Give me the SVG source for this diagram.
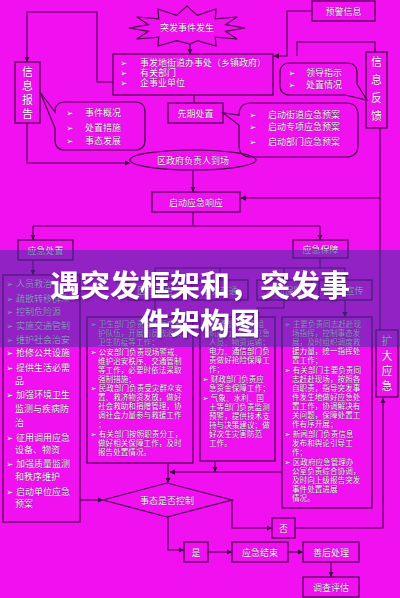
<svg xmlns="http://www.w3.org/2000/svg" width="400" height="598" viewBox="0 0 400 598">
<defs>
<marker id="ah" viewBox="0 0 10 10" refX="9" refY="5" markerWidth="5" markerHeight="5" orient="auto"><path d="M0,0 L10,5 L0,10 Z" fill="#3a003a"/></marker>
<filter id="sh" x="-5%" y="-20%" width="110%" height="140%"><feDropShadow dx="1" dy="1.5" stdDeviation="1" flood-color="#3a0a4a" flood-opacity="0.45"/></filter>
<style>
.bx{fill:none;stroke:#4a004a;stroke-width:1.2}
.ln{fill:none;stroke:#4a004a;stroke-width:1.1}
.t{font-family:"Noto Sans CJK SC","Liberation Sans",sans-serif;fill:#fff2ff;stroke:#7a107a;stroke-width:0.45;paint-order:stroke}
.c{text-anchor:middle}
.s9{font-size:9px}
.s8{font-size:7.6px}
.s11{font-size:11px}
.title{font-family:"Noto Sans CJK SC","Liberation Sans",sans-serif;font-size:30px;font-weight:700;fill:#ffffff;text-anchor:middle}
</style>
</defs>
<rect width="400" height="598" fill="#f010f0"/>

<g id="connectors">
<path class="ln" d="M190,43 V53.5" marker-end="url(#ah)"/>
<path class="ln" d="M312,11 H287 V56 H274" marker-end="url(#ah)"/>
<path class="ln" d="M375,52 V42 H297 V56"/>
<path class="ln" d="M113,82 H97 V12 H27 V61.5" marker-end="url(#ah)"/>
<path class="ln" d="M27,123 V163 H129.5" marker-end="url(#ah)"/>
<path class="ln" d="M194,95 V103"/>
<path class="ln" d="M193,170 V191.5" marker-end="url(#ah)"/>
<path class="ln" d="M380,128 V330"/>
<path class="ln" d="M380,198 H241" marker-end="url(#ah)"/>
<path class="ln" d="M193,212 V226 M33,226 H320"/>
<path class="ln" d="M33,226 V239.5" marker-end="url(#ah)"/>
<path class="ln" d="M320,226 V239.5" marker-end="url(#ah)"/>
<path class="ln" d="M33,260 V274.5" marker-end="url(#ah)"/>
<path class="ln" d="M320,258 V268 M155,268 H345"/>
<path class="ln" d="M155,268 V279.5" marker-end="url(#ah)"/>
<path class="ln" d="M220,268 V279.5" marker-end="url(#ah)"/>
<path class="ln" d="M284,268 V279.5" marker-end="url(#ah)"/>
<path class="ln" d="M345,268 V279.5" marker-end="url(#ah)"/>
<path class="ln" d="M155,300 V316.5" marker-end="url(#ah)"/>
<path class="ln" d="M284,300 V308 H257 V316.5" marker-end="url(#ah)"/>
<path class="ln" d="M345,300 V316.5" marker-end="url(#ah)"/>
<path class="ln" d="M168,463 V482.5" marker-end="url(#ah)"/>
<path class="ln" d="M215,461 V471.5" marker-end="url(#ah)"/>
<path class="ln" d="M282,472 H170" marker-end="url(#ah)"/>
<path class="ln" d="M80,500 H102.5" marker-end="url(#ah)"/>
<path class="ln" d="M232,500 V528 H271.5" marker-end="url(#ah)"/>
<path class="ln" d="M295,528 H383 V398.5" marker-end="url(#ah)"/>
<path class="ln" d="M168,517 V550 H183.5" marker-end="url(#ah)"/>
<path class="ln" d="M208,552 H231.5" marker-end="url(#ah)"/>
<path class="ln" d="M288,552 H302.5" marker-end="url(#ah)"/>
<path class="ln" d="M331,562 V576.5" marker-end="url(#ah)"/>
</g>

<g id="n-burst">
<polygon class="bx" points="245,28 225.6,31.4 237.2,39 215.3,37.2 216,46 197.4,40.6 190,44 176.6,40.6 158,46 158.7,37.2 136.8,39 148.4,31.4 129,28 148.4,24.6 136.8,17 158.7,18.8 158,9 176.6,15.4 187,6 197.4,15.4 216,9 215.3,18.8 237.2,17 225.6,24.6"/>
<text class="t s9 c" x="187" y="31">突发事件发生</text>
</g>

<g id="n-warn">
<rect class="bx" x="312" y="1" width="63" height="20"/>
<text class="t s9 c" x="343.5" y="14.5">预警信息</text>
</g>

<g id="n-main">
<rect class="bx" x="113" y="54" width="160" height="41"/>
<text class="t s9" x="120" y="66">➢</text><text class="t s9" x="140" y="66">事发地街道办事处（乡镇政府）</text>
<text class="t s9" x="120" y="76">➢</text><text class="t s9" x="140" y="76">有关部门</text>
<text class="t s9" x="120" y="86">➢</text><text class="t s9" x="140" y="86">企事业单位</text>
</g>

<g id="n-lead">
<path class="bx" d="M290,63 H347 Q357,63 357,73 V84 L367,100 L345,95 H290 Q280,95 280,85 V73 Q280,63 290,63 Z"/>
<text class="t s9" x="288" y="76">➢</text><text class="t s9" x="306" y="76">领导指示</text>
<text class="t s9" x="288" y="88">➢</text><text class="t s9" x="306" y="88">处置情况</text>
</g>

<g id="n-feedback">
<rect class="bx" x="366" y="52" width="21" height="76"/>
<text class="t s11 c" x="376.5" y="66">信</text>
<text class="t s11 c" x="376.5" y="84">息</text>
<text class="t s11 c" x="376.5" y="102">反</text>
<text class="t s11 c" x="376.5" y="120">馈</text>
</g>

<g id="n-report">
<rect class="bx" x="15" y="62" width="25" height="61"/>
<text class="t s11 c" x="27.5" y="76">信</text>
<text class="t s11 c" x="27.5" y="90">息</text>
<text class="t s11 c" x="27.5" y="104">报</text>
<text class="t s11 c" x="27.5" y="118">告</text>
</g>

<g id="n-reportinfo">
<path class="bx" d="M65,102 H135 Q145,102 145,112 V140 Q145,150 135,150 H65 Q55,150 55,140 V128 L40,92 L55,112 Q55,102 65,102 Z"/>
<text class="t s9" x="66" y="116">➢</text><text class="t s9" x="85" y="116">事件概况</text>
<text class="t s9" x="66" y="131">➢</text><text class="t s9" x="85" y="131">处置措施</text>
<text class="t s9" x="66" y="144">➢</text><text class="t s9" x="85" y="144">事态发展</text>
</g>

<g id="n-first">
<rect class="bx" x="168" y="103" width="55" height="20"/>
<text class="t s9 c" x="195.5" y="116.5">先期处置</text>
</g>

<g id="n-plans">
<path class="bx" d="M251,103 H346 Q358,103 358,115 V145 Q358,157 346,157 H251 Q239,157 239,145 V125 L223,113 L239,115 Q239,103 251,103 Z"/>
<text class="t s9" x="249" y="118">➢</text><text class="t s9" x="268" y="118">启动街道应急预案</text>
<text class="t s9" x="249" y="130">➢</text><text class="t s9" x="268" y="130">启动专项应急预案</text>
<text class="t s9" x="249" y="145">➢</text><text class="t s9" x="268" y="145">启动部门应急预案</text>
</g>

<g id="n-leader">
<ellipse class="bx" cx="193" cy="160" rx="63" ry="10"/>
<text class="t s9 c" x="193" y="163.5">区政府负责人到场</text>
</g>

<g id="n-response">
<rect class="bx" x="152" y="192" width="88" height="20"/>
<text class="t s9 c" x="196" y="205.5">启动应急响应</text>
</g>

<g id="n-rescue">
<rect class="bx" x="18" y="240" width="55" height="20"/>
<text class="t s9 c" x="45.5" y="253.5">应急处置</text>
</g>

<g id="n-support">
<rect class="bx" x="293" y="240" width="55" height="18"/>
<text class="t s9 c" x="320.5" y="252.5">应急保障</text>
</g>

<g id="n-a"><rect class="bx" x="128" y="280" width="54" height="20"/><text class="t s9 c" x="155" y="293.5">医疗卫生</text></g>
<g id="n-b"><rect class="bx" x="192" y="280" width="56" height="20"/><text class="t s9 c" x="220" y="293.5">治安交通</text></g>
<g id="n-c"><rect class="bx" x="257" y="280" width="55" height="20"/><text class="t s9 c" x="284.5" y="293.5">后勤保障</text></g>
<g id="n-d"><rect class="bx" x="319" y="280" width="53" height="20"/><text class="t s9 c" x="345.5" y="293.5">新闻宣传</text></g>

<g id="n-list">
<rect class="bx" x="3" y="275" width="77" height="247"/>
<g class="t s9">
<text x="6" y="287">➢ 人员救治</text>
<text x="6" y="302">➢ 疏散转移群众</text>
<text x="6" y="315">➢ 控制危险源</text>
<text x="6" y="329">➢ 实施交通管制</text>
<text x="6" y="343">➢ 维护社会治安</text>
<text x="6" y="356">➢ 抢修公共设施</text>
<text x="6" y="371">➢ 提供生活必需</text>
<text x="15" y="384">品</text>
<text x="6" y="398">➢ 加强环境卫生</text>
<text x="15" y="412">监测与疾病防</text>
<text x="15" y="426">治</text>
<text x="6" y="441">➢ 征用调用应急</text>
<text x="15" y="453">设备、物资</text>
<text x="6" y="467">➢ 加强质量监测</text>
<text x="15" y="480">和秩序维护</text>
<text x="6" y="495">➢ 启动单位应急</text>
<text x="15" y="507">预案</text>
</g>
</g>

<g id="n-box1">
<rect class="bx" x="87" y="317" width="106" height="146"/>
<g class="t s8">
<text x="90" y="327">➢ 卫生部门负责组织医疗救</text>
<text x="98" y="336">护队伍，开展伤员救治和</text>
<text x="98" y="345">卫生防疫等工作；</text>
<text x="90" y="355">➢ 公安部门负责现场警戒、</text>
<text x="98" y="364">维护治安秩序、交通管制</text>
<text x="98" y="373">等工作，必要时依法采取</text>
<text x="98" y="382">强制措施；</text>
<text x="90" y="391">➢ 民政部门负责受灾群众安</text>
<text x="98" y="400">置、救济物资发放，做好</text>
<text x="98" y="409">社会救助和捐赠管理，协</text>
<text x="98" y="418">调社会力量参与救援工作</text>
<text x="98" y="427">；</text>
<text x="90" y="437">➢ 有关部门按照职责分工，</text>
<text x="98" y="446">做好相关保障工作，及时</text>
<text x="98" y="455">报告处置情况。</text>
</g>
</g>

<g id="n-box2">
<rect class="bx" x="200" y="317" width="75" height="144"/>
<g class="t s8">
<text x="202" y="327">➢ 交通部门负责组</text>
<text x="209" y="336">织运力，保障应急</text>
<text x="209" y="345">人员、物资运输；</text>
<text x="209" y="354">电力、通信部门负</text>
<text x="209" y="363">责做好抢险保障工</text>
<text x="209" y="372">作；</text>
<text x="202" y="382">➢ 财政部门负责应</text>
<text x="209" y="391">急资金保障工作；</text>
<text x="202" y="401">➢ 气象、水利、国</text>
<text x="209" y="410">土等部门负责监测</text>
<text x="209" y="419">预警，提供技术支</text>
<text x="209" y="428">持与决策建议；做</text>
<text x="209" y="437">好次生灾害防范</text>
<text x="209" y="446">工作。</text>
</g>
</g>

<g id="n-box3">
<rect class="bx" x="282" y="317" width="90" height="191"/>
<g class="t s8">
<text x="284" y="327">➢ 主要负责同志赶赴现</text>
<text x="292" y="336">场指挥，控制事态发</text>
<text x="292" y="345">展，及时组织调度救</text>
<text x="292" y="354">援力量，统一指挥处</text>
<text x="292" y="363">置工作；</text>
<text x="284" y="373">➢ 有关部门主要负责同</text>
<text x="292" y="382">志赶赴现场，按照各</text>
<text x="292" y="391">自职责，指导突发事</text>
<text x="292" y="400">件发生地做好应急处</text>
<text x="292" y="409">置工作，协调解决有</text>
<text x="292" y="418">关问题，保障处置工</text>
<text x="292" y="427">作有序开展；</text>
<text x="284" y="437">➢ 新闻部门负责信息</text>
<text x="292" y="446">发布和舆论引导工</text>
<text x="292" y="455">作；</text>
<text x="284" y="465">➢ 区政府应急管理办</text>
<text x="292" y="474">公室负责综合协调，</text>
<text x="292" y="483">及时向上级报告突发</text>
<text x="292" y="492">事件处置进展</text>
<text x="292" y="501">情况。</text>
</g>
</g>

<g id="n-expand">
<rect class="bx" x="376" y="330" width="22" height="67"/>
<text class="t s11 c" x="387" y="345">扩</text>
<text class="t s11 c" x="387" y="360">大</text>
<text class="t s11 c" x="387" y="375">应</text>
<text class="t s11 c" x="387" y="390">急</text>
</g>

<g id="n-decision">
<polygon class="bx" points="103,500 167,483 232,500 167,517"/>
<text class="t s9 c" x="167" y="503.5">事态是否控制</text>
</g>

<g id="n-no"><rect class="bx" x="272" y="518" width="23" height="20"/><text class="t s9 c" x="283.5" y="531.5">否</text></g>
<g id="n-yes"><rect class="bx" x="184" y="542" width="24" height="20"/><text class="t s9 c" x="196" y="555.5">是</text></g>
<g id="n-end"><rect class="bx" x="232" y="542" width="56" height="20"/><text class="t s9 c" x="260" y="555.5">应急结束</text></g>
<g id="n-after"><rect class="bx" x="303" y="542" width="56" height="20"/><text class="t s9 c" x="331" y="555.5">善后处理</text></g>
<g id="n-eval"><rect class="bx" x="303" y="577" width="56" height="20"/><text class="t s9 c" x="331" y="590.5">调查评估</text></g>

<g id="overlay">
<rect x="0" y="250" width="400" height="97" fill="rgb(70,50,160)" opacity="0.55"/>
<g filter="url(#sh)">
<text class="title" x="200" y="296">遇突发框架和，突发事</text>
<text class="title" x="200" y="334">件架构图</text>
</g>
</g>
</svg>
